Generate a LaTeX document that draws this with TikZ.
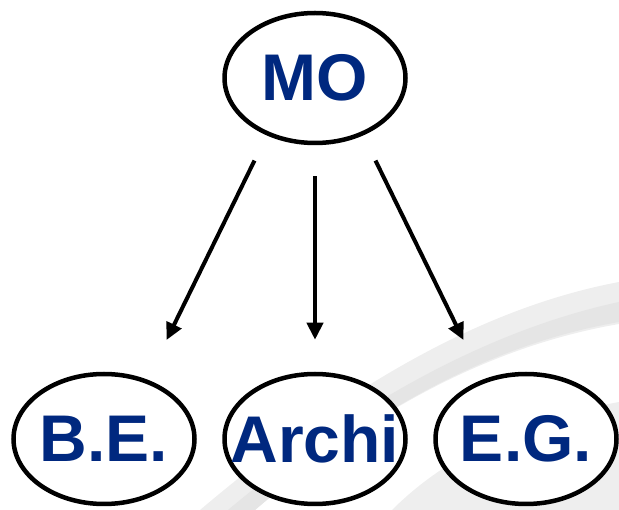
\documentclass[tikz,border=0pt]{standalone}
\usepackage{fontspec}
\setmainfont{Liberation Sans}
\usepackage{tikz}
\usetikzlibrary{arrows.meta, shapes.geometric}

\definecolor{moblue}{RGB}{0,40,127}

\begin{document}
\begin{tikzpicture}[x=1pt, y=-1pt,
  bubble/.style={ellipse, draw, fill=white, line width=4.5pt, minimum width=181pt, minimum height=130pt, inner sep=0pt, text=moblue, font=\fontsize{66}{66}\selectfont\bfseries},
  link/.style={line width=4pt, -{Triangle[length=17pt, width=16pt]}}]

% Fix the page size
\useasboundingbox (0,0) rectangle (619,510);

% Draw the grey swoosh in the background
\fill[gray!13] (200,510) .. controls (330,400) and (470,310) .. (619,282) -- (619,324) .. controls (480,348) and (360,420) .. (255,510) -- cycle;
\fill[gray!20] (228,510) .. controls (345,412) and (480,332) .. (619,302) -- (619,322) .. controls (480,346) and (360,420) .. (255,510) -- cycle;
\fill[gray!13] (619,402) .. controls (530,418) and (450,452) .. (392,510) -- (619,510) -- cycle;

% Place the four ellipses
\node[bubble] (MO) at (315,78) {\makebox[0pt]{MO}};
\node[bubble] (BE) at (104,439) {\makebox[0pt]{B.E.}};
\node[bubble] (Archi) at (315,439) {\makebox[0pt]{Archi}};
\node[bubble] (EG) at (526,439) {\makebox[0pt]{E.G.}};

% Draw the arrows
\draw[link, shorten <=28pt, shorten >=44pt] (MO.230) -- (BE.54);
\draw[link, shorten <=31pt, shorten >=32pt] (MO.south) -- (Archi.north);
\draw[link, shorten <=28pt, shorten >=44pt] (MO.310) -- (EG.126);

\end{tikzpicture}
\end{document}
